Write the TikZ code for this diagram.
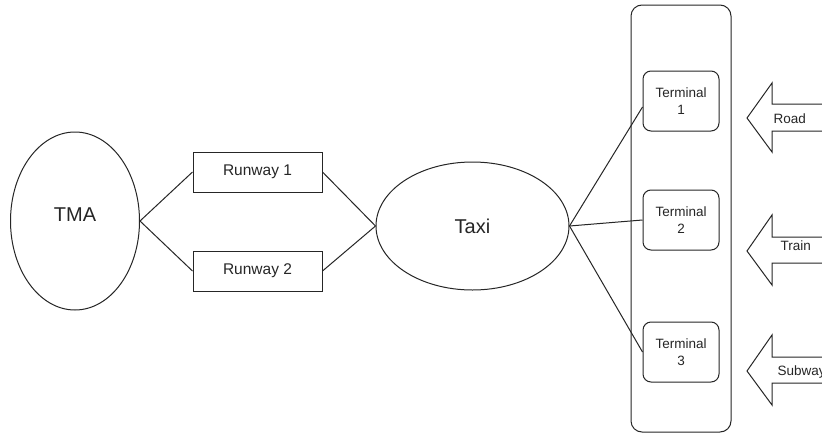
\documentclass[tikz,border=0pt]{standalone}
\usepackage{fontspec}
\setmainfont{Liberation Sans}
\usetikzlibrary{shapes.geometric}
\begin{document}
\begin{tikzpicture}[x=1pt,y=-1pt,
  line width=1pt, draw=black!85,
  every node/.style={text=black!85, inner sep=0pt},
  ell/.style={draw, ellipse, font=\fontsize{20}{24}\selectfont},
  rwbox/.style={draw, rectangle, minimum width=129pt, minimum height=40pt, font=\fontsize{15.5}{18}\selectfont},
  termbox/.style={draw, rectangle, rounded corners=8pt, minimum width=76pt, minimum height=60pt, align=center, font=\fontsize{13.5}{17}\selectfont},
  lbl/.style={anchor=west, font=\fontsize{13.5}{16}\selectfont},
  conn/.style={draw, line width=1pt}]
\clip (0,0) rectangle (822,434);
\fill[white] (0,0) rectangle (822,434);
% container
\node[draw, rectangle, rounded corners=11pt, minimum width=100pt, minimum height=427pt] (cont) at (681,218.5) {};
% main nodes
\node[ell, minimum width=129pt, minimum height=178pt] (tma) at (75,221) {};
\node (tmalbl) at (75,215) {\fontsize{20}{24}\selectfont TMA};
\node[rwbox] (rw1) at (257.5,172) {Runway 1};
\node[rwbox] (rw2) at (257.5,271) {Runway 2};
\node[ell, minimum width=193pt, minimum height=128pt] (taxi) at (472.5,226) {Taxi};
\node[termbox] (t1) at (681,101) {Terminal\\1};
\node[termbox] (t2) at (681,220) {Terminal\\2};
\node[termbox] (t3) at (681,352) {Terminal\\3};
% connectors
\draw[conn] (tma.east) -- (rw1.west);
\draw[conn] (tma.east) -- (rw2.west);
\draw[conn] (rw1.east) -- (taxi.west);
\draw[conn] (rw2.east) -- (taxi.west);
\draw[conn] (taxi.east) -- ([yshift=-6pt]t1.west);
\draw[conn] (taxi.east) -- (t2.west);
\draw[conn] (taxi.east) -- (t3.west);
% block arrows
\draw (830,104) -- (772,104) -- (772,83) -- (747,118) -- (772,152) -- (772,131) -- (830,131);
\draw (830,237) -- (772,237) -- (772,215) -- (747,251) -- (772,285) -- (772,263) -- (830,263);
\draw (830,357) -- (772,357) -- (772,335) -- (747,371) -- (772,405) -- (772,383) -- (830,383);
\node[lbl] (road) at (773,119) {Road};
\node[lbl] (train) at (780,246) {Train};
\node[lbl] (subway) at (777,372) {Subway};
\end{tikzpicture}
\end{document}
